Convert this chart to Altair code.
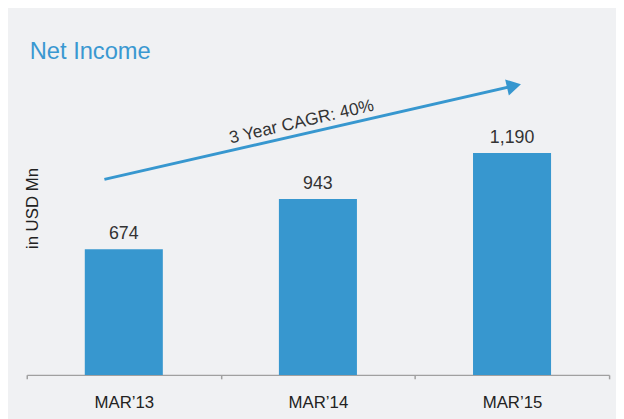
import altair as alt
import pandas as pd

# ---- data ----
periods = ["MAR’13", "MAR’14", "MAR’15"]
net_income = [674, 943, 1190]

# CAGR arrow annotation (x in band units 0..3, y in USD Mn)
arrow_x = [0.40, 2.51]
arrow_y = [1048, 1549]
head_x = [2.51]
head_y = [1549]
cagr_label = ["3 Year CAGR: 40%"]
cagr_x = [1.416]
cagr_y = [1355]

BLUE = "#3797cf"
TEXT = "#333333"
FONT = "Liberation Sans"

bars_df = pd.DataFrame({"period": periods, "value": net_income})
arrow_df = pd.DataFrame({"ax": arrow_x, "value": arrow_y})
head_df = pd.DataFrame({"ax": head_x, "value": head_y})
cagr_df = pd.DataFrame({"ax": cagr_x, "value": cagr_y, "label": cagr_label})

y_axis = alt.Axis(
    title="in USD Mn", labels=False, ticks=False, domain=False, grid=False,
    titleX=11, titleY=133, titleBaseline="alphabetic", titleAlign="center",
    titleFontSize=17, titleFontWeight="normal", titleColor="#222222", titleFont=FONT,
)
y_enc = alt.Y("value:Q", scale=alt.Scale(domain=[0, 1598], nice=False, zero=True), axis=y_axis)

x_band = alt.X(
    "period:N", sort=periods,
    scale=alt.Scale(paddingInner=0, paddingOuter=0),
    axis=alt.Axis(
        title=None, labelAngle=0, labelFontSize=17, labelColor="#222222", labelFont=FONT,
        labelPadding=29, labelBaseline="alphabetic", tickSize=4, tickColor="#a0a0a0",
        tickWidth=1.5, domainColor="#a0a0a0", domainWidth=1.5, tickBand="extent", grid=False,
    ),
)
x_q = alt.X("ax:Q", scale=alt.Scale(domain=[0, 3], nice=False, zero=False), axis=None)

bars = alt.Chart(bars_df).mark_bar(color=BLUE, width=alt.RelativeBandSize(0.402)).encode(
    x=x_band, y=y_enc
)
labels = alt.Chart(bars_df).mark_text(
    dy=-10, baseline="alphabetic", fontSize=18, color=TEXT, font=FONT
).encode(x=x_band, y=y_enc, text=alt.Text("value:Q", format=","))

base = alt.layer(bars, labels)

arrow_line = alt.Chart(arrow_df).mark_line(color=BLUE, strokeWidth=3).encode(x=x_q, y=y_enc)
arrow_head = alt.Chart(head_df).mark_point(
    shape="triangle-right", filled=True, color=BLUE, opacity=1, size=280, angle=347
).encode(x=x_q, y=y_enc)
cagr_text = alt.Chart(cagr_df).mark_text(
    fontSize=17.5, color=TEXT, font=FONT, angle=347, align="center", baseline="middle"
).encode(x=x_q, y=y_enc, text="label:N")

annot = alt.layer(arrow_line, arrow_head, cagr_text)

chart = alt.layer(base, annot).resolve_scale(x="independent").properties(
    width=590,
    height=302,
    autosize=alt.AutoSizeParams(type="none"),
    padding={"left": 19, "top": 67, "right": 7, "bottom": 42},
    background="#f0f1f3",
    title=alt.TitleParams(
        "Net Income", anchor="start", frame="group", fontSize=24, fontWeight="normal",
        color="#3a98d1", font=FONT, dx=3, dy=22, offset=11, baseline="bottom",
    ),
).configure(font=FONT).configure_view(stroke=None, strokeWidth=0)

chart.save("out.html", embed_options={"renderer": "svg", "actions": False})
